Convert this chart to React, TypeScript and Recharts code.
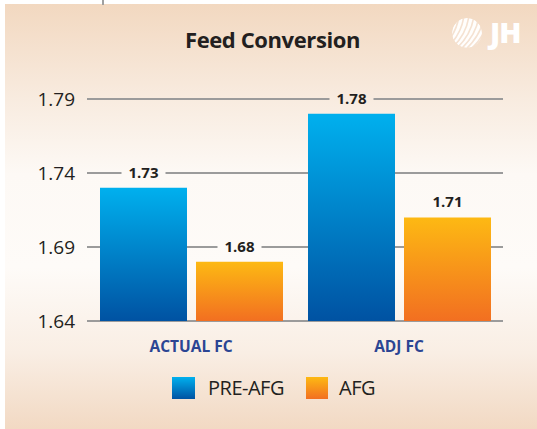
import React from 'react';
import { BarChart, Bar, XAxis, YAxis, CartesianGrid, LabelList, Legend } from 'recharts';

const categories = ['ACTUAL FC', 'ADJ FC'];
const preAfg = [1.73, 1.78];
const afg = [1.68, 1.71];
const yTicks = [1.64, 1.69, 1.74, 1.79];
const seriesNames = ['PRE-AFG', 'AFG'];
const titleText = 'Feed Conversion';

const data = categories.map((c, i) => ({ name: c, pre: preAfg[i], afg: afg[i] }));

const BG_STOPS: [number, string][] = [
  [0, '#f2d8c0'],
  [0.22, '#f8ebdf'],
  [0.4, '#fdf9f5'],
  [0.62, '#fefbf8'],
  [0.82, '#f9eee4'],
  [1, '#f2d9c3'],
];

const W = 537;
const H = 429;

const ValueLabel = (props: any) => {
  const { x, y, width, value } = props;
  const cx = x + width / 2;
  const cy = y - 16;
  return (
    <g>
      <rect x={cx - 22} y={cy - 8} width={44} height={16} fill="url(#bgUser)" />
      <text
        x={cx}
        y={cy}
        textAnchor="middle"
        dominantBaseline="central"
        fontFamily="'Open Sans', sans-serif"
        fontWeight={700}
        fontSize={15}
        fill="#231f20"
      >
        {Number(value).toFixed(2)}
      </text>
    </g>
  );
};

const legendText: React.CSSProperties = {
  position: 'absolute',
  top: 22,
  fontFamily: "'Open Sans', sans-serif",
  fontSize: 20,
  letterSpacing: -0.5,
  color: '#231f20',
  lineHeight: '30px',
  whiteSpace: 'nowrap',
};

const LegendContent = () => (
  <div style={{ position: 'relative', height: 60, width: 503 }}>
    <svg width={24} height={22} style={{ position: 'absolute', left: 172, top: 26 }}>
      <defs>
        <linearGradient id="lgBlue" x1="0" y1="0" x2="0" y2="1">
          <stop offset="0%" stopColor="#00b0ee" />
          <stop offset="100%" stopColor="#0052a2" />
        </linearGradient>
      </defs>
      <rect x={0} y={0} width={23} height={22} fill="url(#lgBlue)" />
    </svg>
    <span style={{ ...legendText, left: 208 }}>{seriesNames[0]}</span>
    <svg width={24} height={22} style={{ position: 'absolute', left: 306, top: 26 }}>
      <defs>
        <linearGradient id="lgOrange" x1="0" y1="0" x2="0" y2="1">
          <stop offset="0%" stopColor="#fdb913" />
          <stop offset="100%" stopColor="#f26f21" />
        </linearGradient>
      </defs>
      <rect x={0} y={0} width={22} height={22} fill="url(#lgOrange)" />
    </svg>
    <span style={{ ...legendText, left: 339 }}>{seriesNames[1]}</span>
  </div>
);

const bgCss = `linear-gradient(to bottom, ${BG_STOPS.map(([o, c]) => `${c} ${o * 100}%`).join(', ')})`;

export default function App() {
  const gcx = 467;
  const gcy = 33;
  const gr = 15;
  return (
    <div style={{ position: 'absolute', left: 0, top: 0, width: W, height: H, background: '#ffffff', overflow: 'hidden' }}>
      <div style={{ position: 'absolute', left: 5, top: 4, width: W - 5, height: H - 4, background: bgCss }} />
      <div style={{ position: 'absolute', left: 102, top: 0, width: 2, height: 5, background: '#a0a0a0' }} />
      <div
        style={{
          position: 'absolute',
          left: 0,
          width: W,
          top: 24,
          textAlign: 'center',
          fontFamily: "'Open Sans', sans-serif",
          fontWeight: 700,
          fontSize: 22,
          letterSpacing: -0.4,
          color: '#231f20',
          paddingLeft: 8,
          boxSizing: 'border-box',
        }}
      >
        {titleText}
      </div>
      <svg width={W} height={H} style={{ position: 'absolute', left: 0, top: 0, pointerEvents: 'none' }}>
        <defs>
          <clipPath id="globeClip">
            <circle cx={gcx} cy={gcy} r={gr} />
          </clipPath>
        </defs>
        <g clipPath="url(#globeClip)" opacity={0.95}>
          <circle cx={gcx} cy={gcy} r={gr} fill="#ffffff" />
          {[-14, -9, -4, 1, 6, 11, 16].map((d, i) => (
            <path
              key={i}
              d={`M ${gcx + d - 14} ${gcy + 18} Q ${gcx + d + 4} ${gcy + 2} ${gcx + d + 6} ${gcy - 18}`}
              stroke="#f5e2d2"
              strokeWidth={1.6}
              fill="none"
            />
          ))}
        </g>
        <text
          x={490}
          y={43}
          fontFamily="'Open Sans', sans-serif"
          fontWeight={800}
          fontSize={29}
          fill="#ffffff"
          letterSpacing={-1}
        >
          JH
        </text>
      </svg>
      <div style={{ position: 'absolute', left: 0, top: 0 }}>
        <BarChart
          width={W}
          height={H}
          data={data}
          margin={{ top: 99, right: 34, bottom: 18, left: 0 }}
          barCategoryGap="6.25%"
          barGap={9}
        >
          <defs>
            <linearGradient id="gBlue" x1="0" y1="0" x2="0" y2="1">
              <stop offset="0%" stopColor="#00b0ee" />
              <stop offset="100%" stopColor="#0052a2" />
            </linearGradient>
            <linearGradient id="gOrange" x1="0" y1="0" x2="0" y2="1">
              <stop offset="0%" stopColor="#fdb913" />
              <stop offset="100%" stopColor="#f26f21" />
            </linearGradient>
            <linearGradient id="bgUser" gradientUnits="userSpaceOnUse" x1="0" y1="4" x2="0" y2={H}>
              {BG_STOPS.map(([o, c], i) => (
                <stop key={i} offset={o} stopColor={c} />
              ))}
            </linearGradient>
          </defs>
          <CartesianGrid vertical={false} stroke="#9b9b9b" strokeWidth={2} />
          <XAxis
            dataKey="name"
            height={30}
            tickLine={false}
            axisLine={false}
            tickMargin={14}
            tick={{ fill: '#2b4593', fontSize: 15.5, fontWeight: 700, fontFamily: "'Open Sans', sans-serif" }}
          />
          <YAxis
            width={87}
            domain={[1.64, 1.79]}
            ticks={yTicks}
            tickLine={false}
            axisLine={false}
            tickMargin={6}
            tickFormatter={(v: number) => v.toFixed(2)}
            tick={{ fill: '#231f20', fontSize: 19, fontFamily: "'Open Sans', sans-serif" }}
          />
          <Legend verticalAlign="bottom" content={<LegendContent />} />
          <Bar dataKey="pre" name={seriesNames[0]} fill="url(#gBlue)" isAnimationActive={false}>
            <LabelList dataKey="pre" content={<ValueLabel />} />
          </Bar>
          <Bar dataKey="afg" name={seriesNames[1]} fill="url(#gOrange)" isAnimationActive={false}>
            <LabelList dataKey="afg" content={<ValueLabel />} />
          </Bar>
        </BarChart>
      </div>
    </div>
  );
}
